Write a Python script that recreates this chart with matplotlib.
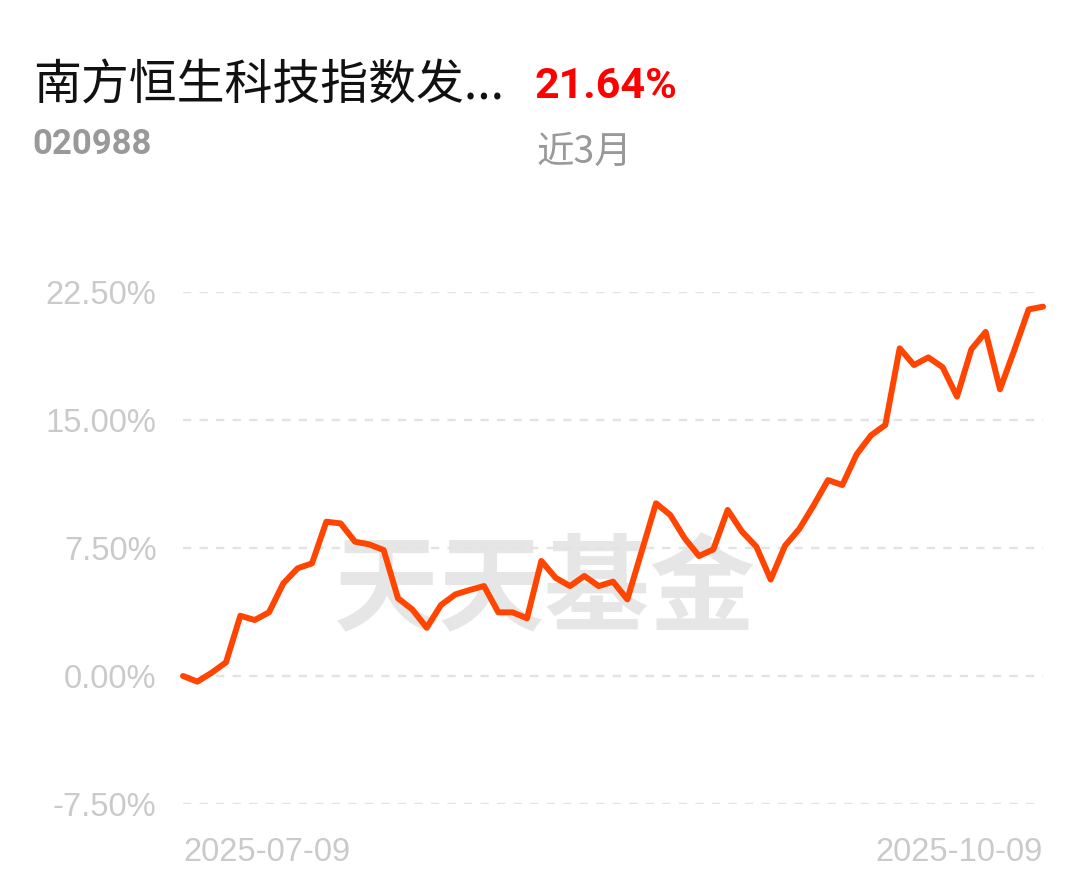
import matplotlib
matplotlib.use("Agg")
import matplotlib.pyplot as plt
from matplotlib.ticker import FuncFormatter
import pandas as pd

# ---- data ----
fund_name = "南方恒生科技指数发..."
fund_code = "020988"
period_label = "近3月"
period_return = "21.64%"
watermark = "天天基金"

dates = [d.strftime("%Y-%m-%d") for d in pd.bdate_range("2025-07-09", "2025-10-09")
         if not ("2025-10-01" <= d.strftime("%Y-%m-%d") <= "2025-10-08")]

returns = [0.00, -0.33, 0.19, 0.80, 3.53, 3.28, 3.73, 5.43, 6.31, 6.60,
           9.04, 8.94, 7.87, 7.71, 7.38, 4.55, 3.90, 2.83, 4.16, 4.78,
           5.04, 5.27, 3.73, 3.73, 3.38, 6.74, 5.75, 5.27, 5.86, 5.27,
           5.53, 4.49, 7.30, 10.12, 9.43, 8.07, 7.03, 7.42, 9.73, 8.46,
           7.58, 5.65, 7.63, 8.62, 10.00, 11.48, 11.19, 12.99, 14.10, 14.71,
           19.20, 18.22, 18.67, 18.09, 16.37, 19.14, 20.16, 16.80, 19.10, 21.48,
           21.64]

y_ticks = [-7.5, 0.0, 7.5, 15.0, 22.5]

# ---- figure ----
W, H = 1089, 881
fig = plt.figure(figsize=(W / 100, H / 100), dpi=100)
fig.patch.set_facecolor("white")

ax_left, ax_right = 183 / W, 1043 / W
ax_bottom, ax_top = 1 - 804 / H, 1 - 292 / H
ax = fig.add_axes([ax_left, ax_bottom, ax_right - ax_left, ax_top - ax_bottom])
ax.set_facecolor("none")

cjk = ["Noto Sans CJK SC", "DejaVu Sans"]
latin = ["Liberation Sans", "DejaVu Sans"]
narrow = ["Roboto", "DejaVu Sans"]

x = list(range(len(returns)))
ax.plot(x, returns, color="#FF4500", linewidth=4.3, solid_joinstyle="round",
        solid_capstyle="round", clip_on=False, zorder=3)

ax.set_xlim(0, len(returns) - 1)
ax.set_ylim(y_ticks[0], y_ticks[-1])
ax.set_yticks(y_ticks)
ax.yaxis.set_major_formatter(FuncFormatter(lambda v, p: f"{v:.2f}%"))
ax.grid(axis="y", color="#e3e3e3", linestyle=(0, (3.5, 3.5)), linewidth=1.7, zorder=0)
ax.grid(axis="x", visible=False)
for s in ax.spines.values():
    s.set_visible(False)
ax.tick_params(axis="y", length=0, pad=19, labelsize=23.5, labelcolor="#cacaca")
ax.tick_params(axis="x", length=0, pad=24, labelsize=23.5, labelcolor="#cacaca")
for lab in ax.get_yticklabels():
    lab.set_fontfamily(latin)

ax.set_xticks([0, len(returns) - 1])
ax.set_xticklabels([dates[0], dates[-1]], family=latin)
labs = ax.get_xticklabels()
labs[0].set_horizontalalignment("left")
labs[1].set_horizontalalignment("right")

# watermark (behind the line)
ax.text(545 / W, 1 - 592 / H, watermark, transform=fig.transFigure, ha="center", va="center",
        fontsize=76, fontweight="bold", color="#e6e6e6", family=cjk, zorder=1, clip_on=False)

# header texts
fig.text(33 / W, 1 - 86 / H, fund_name, ha="left", va="center", fontsize=34.5,
         color="#111111", family=cjk)
fig.text(534 / W, 1 - 87 / H, period_return, ha="left", va="center", fontsize=31,
         color="#ff0000", family=narrow, fontweight="bold")
fig.text(32 / W, 1 - 145 / H, fund_code, ha="left", va="center", fontsize=25,
         color="#999999", family=narrow, fontweight="bold")
fig.text(537 / W, 1 - 152 / H, period_label, ha="left", va="center", fontsize=27,
         color="#999999", family=cjk)

fig.savefig("out.png", dpi=100, facecolor="white")
